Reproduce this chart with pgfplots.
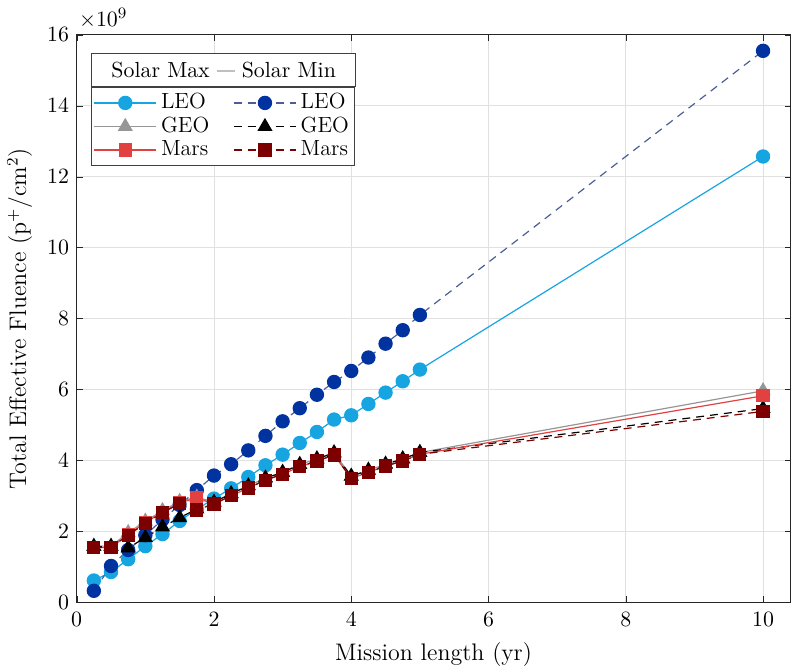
\documentclass[border=0pt,11pt]{standalone}
\usepackage{pgfplots}
\pgfplotsset{compat=1.18}
\usetikzlibrary{calc}
\definecolor{leomax}{RGB}{22,165,225}
\definecolor{leomin}{RGB}{0,50,160}
\definecolor{leominline}{RGB}{75,95,150}
\definecolor{geomax}{RGB}{150,150,150}
\definecolor{marsmax}{RGB}{225,65,65}
\definecolor{marsmin}{RGB}{125,0,0}
\pgfplotstableread{
x leomax leomin geomax geomin marsmax marsmin
0.25 0.61 0.32 1.58 1.57 1.54 1.54
0.50 0.85 1.02 1.58 1.57 1.54 1.54
0.75 1.21 1.47 1.96 1.53 1.91 1.89
1.00 1.58 1.89 2.28 1.82 2.24 2.22
1.25 1.92 2.33 2.58 2.12 2.54 2.52
1.50 2.29 2.74 2.84 2.38 2.80 2.78
1.75 2.62 3.16 2.96 2.63 2.94 2.60
2.00 2.92 3.57 2.82 2.82 2.77 2.77
2.25 3.21 3.89 3.06 3.06 3.00 3.00
2.50 3.53 4.28 3.28 3.28 3.22 3.22
2.75 3.86 4.69 3.50 3.50 3.44 3.44
3.00 4.16 5.10 3.66 3.66 3.61 3.61
3.25 4.49 5.47 3.88 3.88 3.82 3.82
3.50 4.80 5.85 4.04 4.04 3.98 3.98
3.75 5.15 6.21 4.21 4.21 4.15 4.15
4.00 5.27 6.52 3.55 3.55 3.49 3.49
4.25 5.59 6.90 3.72 3.72 3.66 3.66
4.50 5.91 7.29 3.89 3.89 3.84 3.84
4.75 6.23 7.67 4.04 4.04 3.98 3.98
5.00 6.56 8.10 4.22 4.22 4.17 4.17
10.00 12.57 15.55 5.96 5.46 5.82 5.38
}\datatable
\begin{document}
\begin{tikzpicture}
\begin{axis}[
  scale only axis, width=358pt, height=284.5pt,
  xmin=0, xmax=10.4, ymin=0, ymax=16,
  xtick={0,2,...,10}, ytick={0,2,...,16},
  grid=major, grid style={black!12, line width=0.4pt},
  axis line style={black!85, line width=0.5pt},
  tick style={black!85}, tick align=inside, major tick length=3pt,
  xticklabel style={yshift=-1.5pt},
  xlabel={\large Mission length (yr)},
  xlabel style={inner sep=0pt, yshift=-4pt},
  ylabel={\large Total Effective Fluence (p$^+$/cm$^2$)},
  clip=false,
  legend columns=2,
  legend cell align=left,
  legend image code/.code={\draw[mark repeat=2,mark phase=2] plot coordinates {(0cm,0cm) (0.55cm,0cm) (1.1cm,0cm)};},
  legend style={name=leg, at={(0.02,0.908)}, anchor=north west, draw=black!75, line width=0.5pt,
    inner sep=1pt, row sep=-1.5pt, font=\fontsize{11}{12}\selectfont,
    /tikz/every even column/.append style={column sep=10pt}},
]
\addplot[color=leomax, line width=0.6pt, mark=*, mark size=3.3pt, mark options={solid, fill=leomax, draw=leomax}] table[x=x,y=leomax] {\datatable};
\addlegendentry{LEO}
\addplot[color=leominline, dashed, dash pattern=on 4pt off 3pt, line width=0.6pt, mark=*, mark size=3.3pt, mark options={solid, fill=leomin, draw=leomin}] table[x=x,y=leomin] {\datatable};
\addlegendentry{LEO}
\addplot[color=geomax, line width=0.6pt, mark=triangle*, mark size=3.8pt, mark options={solid, fill=geomax, draw=geomax}] table[x=x,y=geomax] {\datatable};
\addlegendentry{GEO}
\addplot[color=black, dashed, dash pattern=on 4pt off 3pt, line width=0.6pt, mark=triangle*, mark size=3.8pt, mark options={solid, fill=black, draw=black}] table[x=x,y=geomin] {\datatable};
\addlegendentry{GEO}
\addplot[color=marsmax, line width=0.6pt, mark=square*, mark size=3pt, mark options={solid, fill=marsmax, draw=marsmax}] table[x=x,y=marsmax] {\datatable};
\addlegendentry{Mars}
\addplot[color=marsmin, dashed, dash pattern=on 4pt off 3pt, line width=0.6pt, mark=square*, mark size=3pt, mark options={solid, fill=marsmin, draw=marsmin}] table[x=x,y=marsmin] {\datatable};
\addlegendentry{Mars}
\node[anchor=base west, inner sep=0pt, xshift=1pt, yshift=4pt] at (rel axis cs:0,1) {$\times 10^{9}$};
\path (rel axis cs:0,1) -- ++(0pt,17.5pt);
\path (rel axis cs:0,0) -- ++(0pt,-32.5pt);
\end{axis}
\path let \p1=($(leg.north east)-(leg.north west)$) in
  node[draw=black!75, line width=0.5pt, anchor=south west, minimum width=\x1, minimum height=16.5pt, inner sep=2pt, fill=white]
  at (leg.north west) {Solar Max \textcolor{gray!50}{\rule[0.6ex]{0.8em}{0.8pt}} Solar Min};
\end{tikzpicture}
\end{document}
